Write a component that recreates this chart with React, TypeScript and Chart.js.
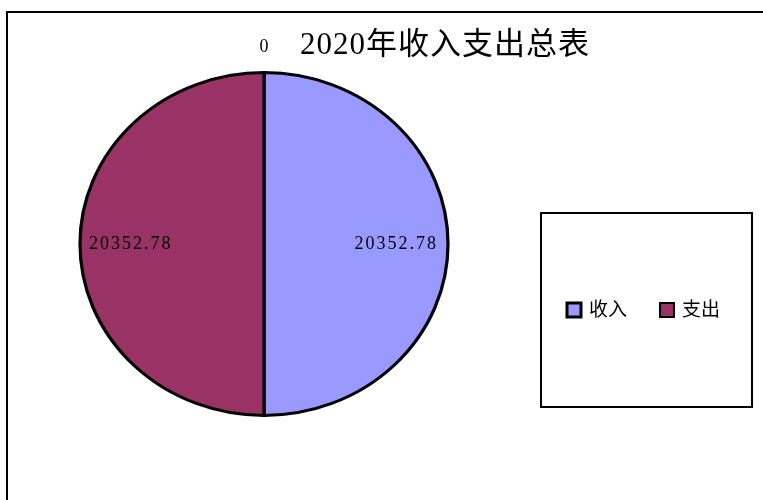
import React, { useEffect, useRef } from "react";
import { Chart, registerables } from "chart.js";

Chart.register(...registerables);

const categories = ["收入", "支出", ""];
const values = [20352.78, 20352.78, 0];
const colors = ["#9999FF", "#993366", "#FFFFCC"];
const titleText = "2020年收入支出总表";
const legendCategories = ["收入", "支出"];

const FONT = "'Liberation Serif', 'Noto Sans CJK SC', serif";
const STRETCH_X = 1.073;

const drawPlugin = {
  id: "excelLook",
  beforeDraw(chart: any) {
    const ctx = chart.ctx;
    ctx.save();
    ctx.fillStyle = "#ffffff";
    ctx.fillRect(0, 0, chart.width, chart.height);
    ctx.strokeStyle = "#000000";
    ctx.lineWidth = 2;
    ctx.strokeRect(7, 12, 900, 700);
    ctx.restore();
  },
  beforeDatasetsDraw(chart: any) {
    const ctx = chart.ctx;
    const arc: any = chart.getDatasetMeta(0).data[0];
    ctx.save();
    if (arc) {
      ctx.translate(arc.x, arc.y);
      ctx.scale(STRETCH_X, 1);
      ctx.translate(-arc.x, -arc.y);
    }
  },
  afterDatasetsDraw(chart: any) {
    const ctx = chart.ctx;
    ctx.restore();
    const meta = chart.getDatasetMeta(0);
    const data = chart.data.datasets[0].data as number[];
    ctx.save();
    // title
    ctx.fillStyle = "#000";
    ctx.font = `31px ${FONT}`;
    ctx.textAlign = "left";
    ctx.textBaseline = "middle";
    (ctx as any).letterSpacing = "1px";
    ctx.fillText(titleText, 300, 46);
    // data labels
    ctx.font = `18px ${FONT}`;
    meta.data.forEach((arc: any, i: number) => {
      const p = arc.getProps(["x", "y", "startAngle", "endAngle", "outerRadius"], true);
      const mid = (p.startAngle + p.endAngle) / 2;
      const v = data[i];
      const txt = Number.isInteger(v) ? String(v) : v.toFixed(2);
      if (v === 0) {
        (ctx as any).letterSpacing = "0px";
        const r = p.outerRadius + 25;
        ctx.textAlign = "center";
        ctx.fillText(txt, p.x + r * Math.cos(mid), p.y + r * Math.sin(mid));
      } else {
        (ctx as any).letterSpacing = "2px";
        const rx = p.outerRadius * STRETCH_X - 9;
        const c = Math.cos(mid);
        ctx.textAlign = c >= 0 ? "right" : "left";
        const off = c >= 0 ? -1 : 0;
        ctx.fillText(txt, p.x + rx * c + off, p.y + p.outerRadius * Math.sin(mid));
      }
    });
    (ctx as any).letterSpacing = "0px";
    // legend box
    ctx.strokeStyle = "#000";
    ctx.lineWidth = 2;
    ctx.strokeRect(541, 213, 211, 194);
    ctx.font = `19px ${FONT}`;
    ctx.textAlign = "left";
    const xs = [567, 660];
    legendCategories.forEach((name, i) => {
      const x = xs[i];
      const y = 310;
      ctx.fillStyle = colors[i];
      ctx.fillRect(x, y - 7, 14, 14);
      ctx.lineWidth = i === 0 ? 3 : 2;
      ctx.strokeRect(x, y - 7, 14, 14);
      ctx.fillStyle = "#000";
      ctx.fillText(name, x + 22, y + 1);
    });
    ctx.restore();
  },
};

export default function App() {
  const ref = useRef<HTMLCanvasElement>(null);
  useEffect(() => {
    if (!ref.current) return;
    const chart = new Chart(ref.current, {
      type: "pie",
      data: {
        labels: categories,
        datasets: [
          {
            data: values,
            backgroundColor: colors,
            borderColor: "#000000",
            borderWidth: 3,
          },
        ],
      },
      options: {
        responsive: false,
        animation: false,
        events: [],
        layout: { padding: { left: 91, right: 326, top: 71, bottom: 83 } },
        plugins: {
          legend: { display: false },
          title: { display: false },
          tooltip: { enabled: false },
        },
      },
      plugins: [drawPlugin],
    });
    return () => chart.destroy();
  }, []);
  return (
    <div style={{ position: "absolute", left: 0, top: 0, width: 763, height: 500 }}>
      <canvas ref={ref} width={763} height={500} />
    </div>
  );
}
